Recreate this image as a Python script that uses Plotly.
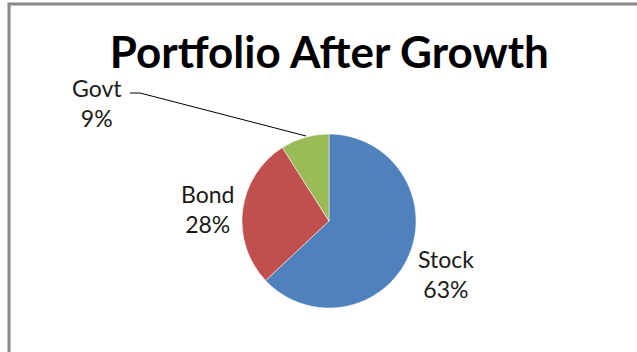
import plotly.graph_objects as go

# data
labels = ['Stock', 'Bond', 'Govt']
values = [63, 28, 9]
colors = ['#4F81BD', '#C0504D', '#9BBB59']

W, H = 637, 352

fig = go.Figure(go.Pie(
    labels=labels,
    values=values,
    sort=False,
    direction='clockwise',
    rotation=0,
    marker=dict(colors=colors, line=dict(color='white', width=0.5)),
    textinfo='none',
    hoverinfo='label+percent',
    showlegend=False,
    domain=dict(x=[(329 - 87) / W, (329 + 87) / W], y=[(131 - 87) / H, (131 + 87) / H]),
))

# data labels placed like the Excel chart
pct = [round(v / sum(values) * 100) for v in values]
label_pos = {'Stock': (446, 274), 'Bond': (207, 209), 'Govt': (97, 103)}
for lab, p in zip(labels, pct):
    x, y = label_pos[lab]
    fig.add_annotation(x=x / W, y=1 - y / H, xref='paper', yref='paper',
                       text=f'{lab}<br>{p}%', showarrow=False, borderpad=0,
                       font=dict(family='Lato', size=23, color='#1a1a1a'),
                       align='center', xanchor='center', yanchor='middle')

# leader line for Govt
fig.add_shape(type='path', xref='paper', yref='paper',
              path=f'M {130/W} {1-93/H} L {140/W} {1-93/H} L {306/W} {1-136/H}',
              line=dict(color='black', width=1))

# chart frame
fig.add_shape(type='rect', xref='paper', yref='paper',
              x0=9 / W, y0=-0.1, x1=1.1, y1=1 - 4 / H,
              line=dict(color='#888888', width=3))

fig.update_layout(
    width=W, height=H,
    margin=dict(l=0, r=0, t=0, b=0),
    paper_bgcolor='white',
    title=dict(text='<b>Portfolio After Growth</b>', x=0.517, xanchor='center',
               y=1 - 53 / H, yanchor='middle',
               font=dict(family='Lato', size=44, color='black')),
)

fig.write_html('out.html', config={'displayModeBar': False},
               post_script="document.body.style.margin='0';")
